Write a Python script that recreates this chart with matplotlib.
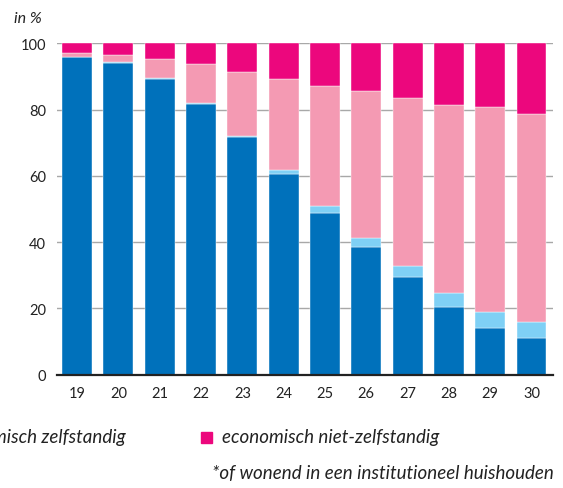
import numpy as np
import matplotlib
matplotlib.use("Agg")
import matplotlib.pyplot as plt
from matplotlib.patches import Rectangle

plt.rcParams['font.family'] = ['Lato', 'DejaVu Sans']

# leeftijd
ages = ["19", "20", "21", "22", "23", "24", "25", "26", "27", "28", "29", "30"]

# aandelen in %, van onder naar boven
dark_blue = [95.8, 94.1, 89.2, 81.7, 71.6, 60.6, 48.9, 38.4, 29.4, 20.3, 14.1, 11.2]
light_blue = [0.2, 0.2, 0.2, 0.2, 0.4, 1.1, 1.9, 2.8, 3.4, 4.3, 4.9, 4.6]
pink = [1.0, 2.1, 5.8, 11.9, 19.4, 27.5, 36.4, 44.3, 50.7, 56.7, 61.7, 62.8]
magenta = [3.0, 3.6, 4.8, 6.2, 8.6, 10.8, 12.8, 14.5, 16.5, 18.7, 19.3, 21.4]

series = [dark_blue, light_blue, pink, magenta]
colors = ["#0071bb", "#7fd0f5", "#f49ab3", "#ec077d"]

fig = plt.figure(figsize=(5.63, 4.89), dpi=100)
ax = fig.add_axes([0.1018, 0.2317, 0.8804, 0.6777])

x = np.arange(len(ages))
bottom = np.zeros(len(ages))
for vals, col in zip(series, colors):
    ax.bar(x, vals, width=0.726, bottom=bottom, color=col,
           edgecolor="white", linewidth=0.3, zorder=3)
    bottom += np.array(vals)

ax.set_xlim(-0.48, 11.52)
ax.set_ylim(0, 100)
ax.set_yticks([0, 20, 40, 60, 80, 100])
ax.set_xticks(x)
ax.set_xticklabels(ages)
ax.yaxis.grid(True, color="#a8a8a8", linewidth=1.0, zorder=0)
ax.tick_params(axis="both", length=0, labelsize=10.5, colors="#222222")
ax.tick_params(axis="x", pad=8)
ax.tick_params(axis="y", pad=8)
for s in ["top", "right", "left"]:
    ax.spines[s].set_visible(False)
ax.spines["bottom"].set_color("#222222")
ax.spines["bottom"].set_linewidth(1.6)
ax.spines["bottom"].set_zorder(5)

fig.text(0.025, 0.961, "in %", fontsize=11.5, style="italic", color="#222222", va="center")

# legenda (links afgesneden)
fig.text(126 / 563, 1 - 438 / 489, "economisch zelfstandig", ha="right", va="center",
         fontsize=13.5, style="italic", color="#222222")
fig.add_artist(Rectangle((201 / 563, 1 - 444 / 489), 11 / 563, 11 / 489,
                         transform=fig.transFigure, color=colors[3]))
fig.text(222 / 563, 1 - 438 / 489, "economisch niet-zelfstandig", ha="left", va="center",
         fontsize=13.5, style="italic", color="#222222")
fig.text(554 / 563, 1 - 474 / 489, "*of wonend in een institutioneel huishouden", ha="right",
         va="center", fontsize=13.5, style="italic", color="#222222")

fig.savefig("out.png", dpi=100)
